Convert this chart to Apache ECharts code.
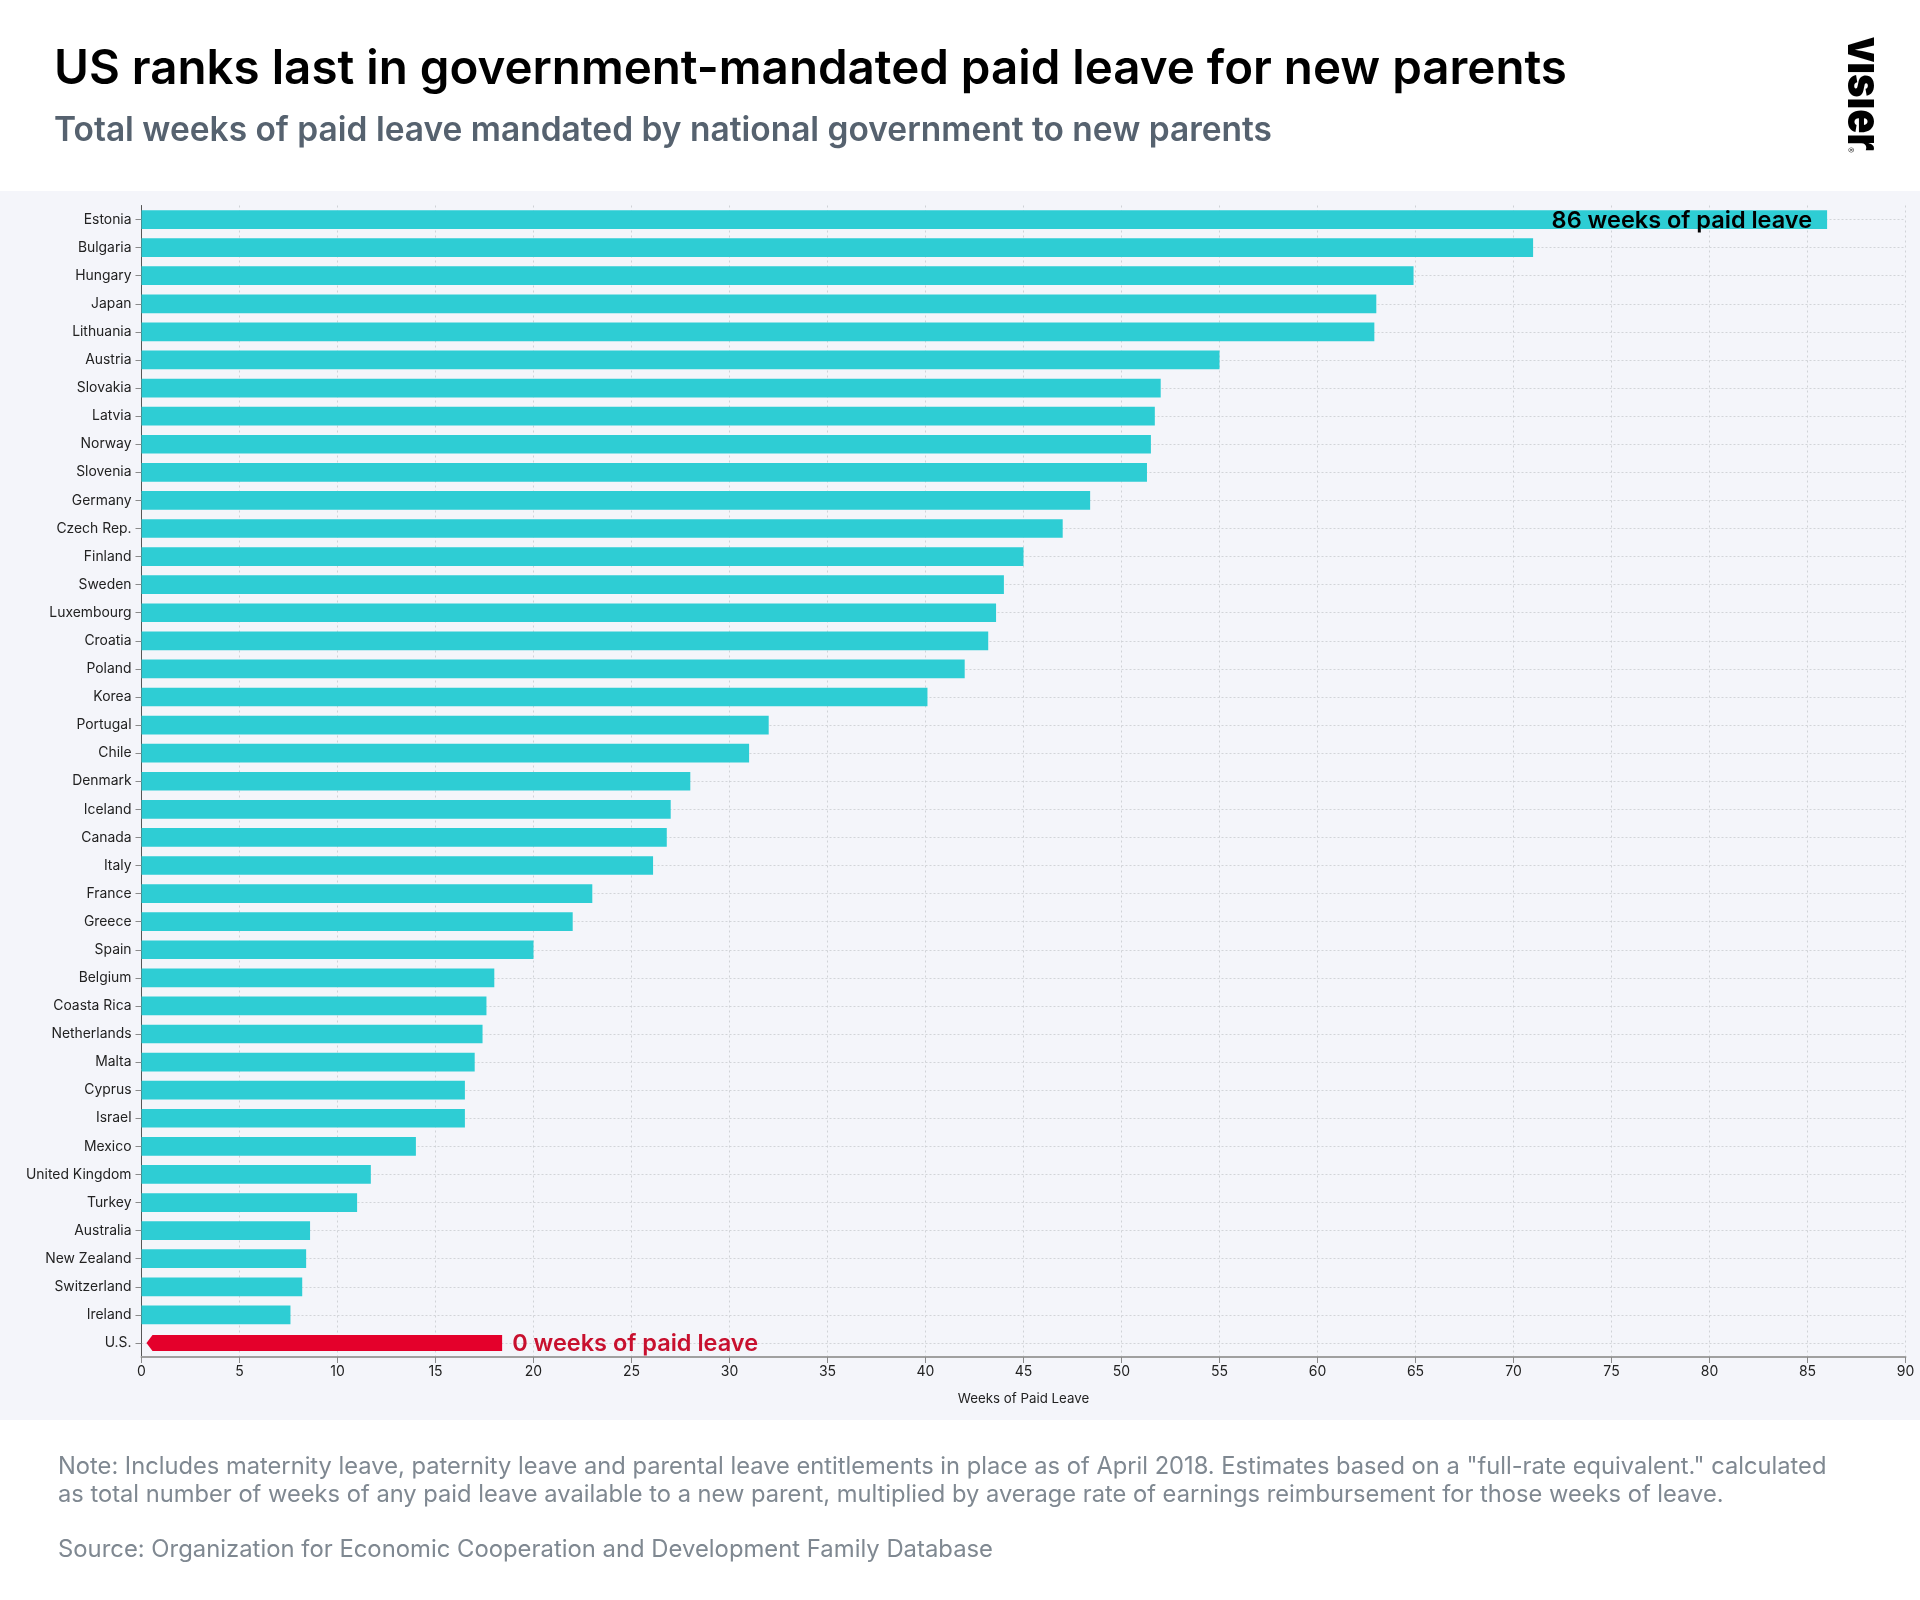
<!DOCTYPE html>
<html>
<head>
<meta charset="utf-8">
<title>Paid leave for new parents</title>
<script src="https://cdn.jsdelivr.net/npm/echarts@6/dist/echarts.min.js"></script>
<style>
  html, body { margin: 0; padding: 0; background: #fff; }
  #chart { width: 1920px; height: 1600px; }
</style>
</head>
<body>
<div id="chart"></div>
<script>
var countries = ["Estonia", "Bulgaria", "Hungary", "Japan", "Lithuania", "Austria", "Slovakia", "Latvia", "Norway", "Slovenia",
  "Germany", "Czech Rep.", "Finland", "Sweden", "Luxembourg", "Croatia", "Poland", "Korea", "Portugal", "Chile",
  "Denmark", "Iceland", "Canada", "Italy", "France", "Greece", "Spain", "Belgium", "Coasta Rica", "Netherlands",
  "Malta", "Cyprus", "Israel", "Mexico", "United Kingdom", "Turkey", "Australia", "New Zealand", "Switzerland", "Ireland", "U.S."];
var weeks = [86, 71, 64.9, 63, 62.9, 55, 52, 51.7, 51.5, 51.3,
  48.4, 47, 45, 44, 43.6, 43.2, 42, 40.1, 32, 31,
  28, 27, 26.8, 26.1, 23, 22, 20, 18, 17.6, 17.4,
  17, 16.5, 16.5, 14, 11.7, 11, 8.6, 8.4, 8.2, 7.6, null];
// the red U.S. marker is drawn to this length in the picture, the label says 0
var usMarker = [["U.S.", 18.4]];
var topLabel = "86 weeks of paid leave";
var usLabel = "0 weeks of paid leave";
var titleText = "US ranks last in government-mandated paid leave for new parents";
var subtitleText = "Total weeks of paid leave mandated by national government to new parents";
var noteLines = [
  'Note: Includes maternity leave, paternity leave and parental leave entitlements in place as of April 2018. Estimates based on a "full-rate equivalent." calculated',
  "as total number of weeks of any paid leave available to a new parent, multiplied by average rate of earnings reimbursement for those weeks of leave."
];
var sourceText = "Source: Organization for Economic Cooperation and Development Family Database";

var fontName = "Inter";
var myChart = echarts.init(document.getElementById("chart"), null, { renderer: "canvas" });

function textEl(text, x, y, font, fill) {
  return {
    type: "text",
    z: 10,
    style: { text: text, x: x, y: y, font: font, fill: fill, textAlign: "left", textVerticalAlign: "middle" }
  };
}

var option = {
  backgroundColor: "#ffffff",
  animation: false,
  textStyle: { fontFamily: fontName },
  grid: { left: 141.5, right: 14.5, top: 205.5, height: 1151.5 },
  graphic: [
    // light band behind the plot
    { type: "rect", z: -1, shape: { x: 0, y: 191, width: 1920, height: 1229 }, style: { fill: "#f4f5fa" } },
    textEl(titleText, 54, 70, "600 47.5px " + fontName, "#000000"),
    textEl(subtitleText, 54, 131, "600 33.5px " + fontName, "#56626f"),
    textEl(noteLines[0], 58, 1467, "400 23.7px " + fontName, "#7f8891"),
    textEl(noteLines[1], 58, 1495, "400 23.7px " + fontName, "#7f8891"),
    textEl(sourceText, 58, 1550, "400 23.85px " + fontName, "#7f8891"),
    // logo, written top to bottom
    {
      type: "text", z: 10, x: 1862, y: 37, rotation: -Math.PI / 2, scaleX: 0.85,
      style: { text: "vısıer", x: 0, y: 0, font: "900 47px " + fontName, fill: "#000000", textAlign: "left", textVerticalAlign: "middle" }
    },
    {
      type: "text", z: 10, x: 1850, y: 150, rotation: -Math.PI / 2,
      style: { text: "®", x: 0, y: 0, font: "400 9px " + fontName, fill: "#555555", textAlign: "center", textVerticalAlign: "middle" }
    }
  ],
  xAxis: {
    type: "value",
    min: 0,
    max: 90,
    interval: 5,
    name: "Weeks of Paid Leave",
    nameLocation: "middle",
    nameGap: 35,
    nameTextStyle: { color: "#222222", fontSize: 13.3, fontFamily: fontName },
    axisLine: { show: true, lineStyle: { color: "#a0a0a0", width: 2 } },
    axisTick: { show: true, length: 6, lineStyle: { color: "#8a8a8a" } },
    axisLabel: { color: "#222222", fontSize: 14, margin: 8, fontFamily: fontName, showMinLabel: true, showMaxLabel: true },
    splitLine: { show: true, lineStyle: { color: "#d0d2d7", width: 1, type: [2, 3] } }
  },
  yAxis: {
    type: "category",
    data: countries,
    inverse: true,
    axisLine: { show: true, lineStyle: { color: "#555555", width: 1 } },
    axisTick: { show: true, alignWithLabel: true, length: 6, lineStyle: { color: "#8a8a8a" } },
    axisLabel: { color: "#222222", fontSize: 13.9, margin: 10, interval: 0, fontFamily: fontName },
    splitLine: { show: true, interval: 0, alignWithLabel: true, lineStyle: { color: "#d2d4d9", width: 1, type: [2, 2] } }
  },
  series: [
    {
      name: "Weeks of paid leave",
      type: "bar",
      barWidth: 18.7,
      itemStyle: { color: "#2ecdd4" },
      data: weeks.map(function (v, i) {
        if (i === 0) {
          return {
            value: v,
            label: {
              show: true, position: "insideRight", distance: 15, offset: [0, 1], formatter: topLabel,
              color: "#000000", fontSize: 23.5, fontWeight: 600, fontFamily: fontName
            }
          };
        }
        return v;
      })
    },
    {
      name: "U.S.",
      type: "custom",
      encode: { x: 1, y: 0 },
      data: usMarker,
      renderItem: function (params, api) {
        var end = api.coord([api.value(1), api.value(0)]);
        var start = api.coord([0, api.value(0)]);
        var h = 16;
        var y = end[1];
        return {
          type: "group",
          children: [
            {
              type: "polygon",
              shape: {
                points: [
                  [start[0] + 5, y],
                  [start[0] + 11, y - h / 2],
                  [end[0], y - h / 2],
                  [end[0], y + h / 2],
                  [start[0] + 11, y + h / 2]
                ]
              },
              style: { fill: "#e4002b" }
            },
            {
              type: "text",
              style: {
                text: usLabel, x: end[0] + 10, y: y + 1, fill: "#c8102e",
                font: "600 23.5px " + fontName, textAlign: "left", textVerticalAlign: "middle"
              }
            }
          ]
        };
      }
    }
  ]
};

myChart.setOption(option);
window.addEventListener("resize", function () {
  myChart.resize();
});
</script>
</body>
</html>
